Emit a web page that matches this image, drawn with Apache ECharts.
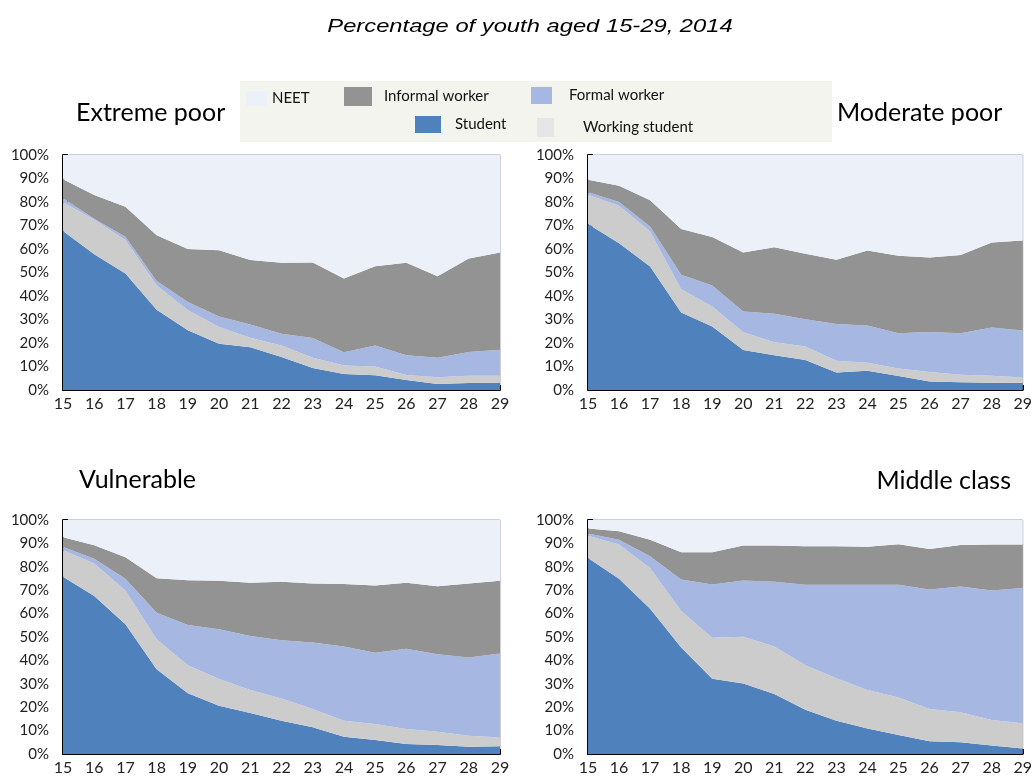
<!DOCTYPE html>
<html>
<head>
<meta charset="utf-8">
<script src="https://cdn.jsdelivr.net/npm/echarts@6/dist/echarts.min.js"></script>
<style>
  html, body { margin: 0; padding: 0; background: #fff; }
  #chart { width: 1035px; height: 776px; }
</style>
</head>
<body>
<div id="chart"></div>
<script>
// ages on the x axis
const ages = ['15', '16', '17', '18', '19', '20', '21', '22', '23', '24', '25', '26', '27', '28', '29'];
const panelNames = ['Extreme poor', 'Moderate poor', 'Vulnerable', 'Middle class'];
const seriesNames = ['Student', 'Working student', 'Formal worker', 'Informal worker', 'NEET'];

// shares in %, one array per status, stacked from the bottom
const extremeStudent  = [67.7, 57.8, 49.6, 34.2, 25.4, 19.7, 18.2, 14.0, 9.4, 6.8, 6.3, 4.3, 2.6, 3.0, 3.1];
const extremeWorkStud = [12.2, 14.6, 14.2, 10.4, 8.5, 7.1, 4.0, 4.9, 4.3, 3.6, 3.7, 2.1, 2.8, 3.1, 3.0];
const extremeFormal   = [1.7, 0.5, 1.4, 1.8, 3.6, 4.5, 5.7, 5.0, 8.4, 5.7, 8.9, 8.4, 8.3, 10.1, 11.0];
const extremeInformal = [8.1, 10.1, 12.8, 19.4, 22.5, 28.2, 27.4, 30.2, 32.2, 31.3, 33.8, 39.3, 34.7, 39.8, 41.4];
const extremeNeet     = [10.3, 17.0, 22.0, 34.2, 40.0, 40.5, 44.7, 45.9, 45.7, 52.6, 47.3, 45.9, 51.6, 44.0, 41.5];

const moderateStudent  = [70.6, 62.5, 52.6, 33.0, 27.0, 17.0, 14.8, 12.8, 7.4, 8.2, 6.0, 3.6, 3.3, 3.1, 3.1];
const moderateWorkStud = [12.5, 15.9, 14.9, 9.9, 8.5, 7.6, 5.5, 5.7, 5.0, 3.4, 3.2, 4.1, 3.2, 3.0, 2.2];
const moderateFormal   = [1.1, 1.6, 2.1, 6.1, 9.0, 8.8, 12.1, 11.6, 15.7, 15.8, 14.9, 17.0, 17.6, 20.5, 20.0];
const moderateInformal = [5.3, 6.9, 11.1, 19.5, 20.6, 25.1, 28.3, 27.9, 27.3, 32.0, 33.0, 31.7, 33.4, 36.2, 38.3];
const moderateNeet     = [10.5, 13.1, 19.3, 31.5, 34.9, 41.5, 39.3, 42.0, 44.6, 40.6, 42.9, 43.6, 42.5, 37.2, 36.4];

const vulnStudent  = [75.7, 67.5, 55.4, 36.2, 26.0, 20.6, 17.5, 14.2, 11.4, 7.4, 6.0, 4.3, 3.8, 3.1, 3.3];
const vulnWorkStud = [11.4, 13.9, 14.5, 12.8, 11.9, 11.4, 9.8, 9.5, 7.8, 6.8, 6.8, 6.4, 5.7, 4.7, 3.8];
const vulnFormal   = [1.4, 2.0, 5.0, 11.4, 17.2, 21.3, 23.1, 24.9, 28.4, 31.7, 30.5, 34.3, 33.1, 33.4, 35.9];
const vulnInformal = [4.1, 5.8, 9.2, 14.7, 19.2, 20.7, 22.8, 25.0, 25.3, 26.8, 28.7, 28.2, 29.1, 31.7, 31.0];
const vulnNeet     = [7.4, 10.8, 15.9, 24.9, 25.7, 26.0, 26.8, 26.4, 27.1, 27.3, 28.0, 26.8, 28.3, 27.1, 26.0];

const middleStudent  = [83.8, 74.9, 62.1, 45.5, 32.2, 30.1, 25.6, 18.9, 14.2, 10.9, 8.1, 5.4, 5.0, 3.6, 2.4];
const middleWorkStud = [9.5, 14.6, 17.4, 15.6, 17.5, 20.0, 20.3, 19.0, 18.2, 16.4, 16.0, 13.8, 12.8, 10.9, 10.7];
const middleFormal   = [0.9, 2.1, 5.0, 13.5, 22.7, 24.0, 27.7, 34.4, 39.9, 45.0, 48.2, 51.1, 53.8, 55.4, 57.8];
const middleInformal = [2.2, 3.6, 7.1, 11.6, 13.8, 15.0, 15.5, 16.5, 16.5, 16.3, 17.3, 17.3, 17.7, 19.6, 18.6];
const middleNeet     = [3.6, 4.8, 8.4, 13.8, 13.8, 10.9, 10.9, 11.2, 11.2, 11.4, 10.4, 12.4, 10.7, 10.5, 10.5];

const panels = [
    [extremeStudent, extremeWorkStud, extremeFormal, extremeInformal, extremeNeet],
    [moderateStudent, moderateWorkStud, moderateFormal, moderateInformal, moderateNeet],
    [vulnStudent, vulnWorkStud, vulnFormal, vulnInformal, vulnNeet],
    [middleStudent, middleWorkStud, middleFormal, middleInformal, middleNeet]
];

const colors = {
    'Student': '#4f81bd',
    'Working student': '#cccccc',
    'Formal worker': '#a6b8e2',
    'Informal worker': '#939393',
    'NEET': '#ecf0f8'
};

const font = 'Lato';
const grids = [
    {left: 63, top: 155, width: 437, height: 235},
    {left: 588, top: 155, width: 437, height: 235},
    {left: 63, top: 520, width: 437, height: 235},
    {left: 588, top: 520, width: 437, height: 235}
];

let xAxes = [], yAxes = [], series = [];
grids.forEach(function(g, i) {
    g.show = true;
    g.borderColor = '#a0a0a0';
    g.borderWidth = 1;
    xAxes.push({
        type: 'category', gridIndex: i, data: ages, boundaryGap: false,
        axisLine: {lineStyle: {color: '#000', width: 2}},
        axisTick: {inside: true, length: 5, lineStyle: {color: '#000', width: 2}},
        axisLabel: {color: '#222', fontFamily: font, fontSize: 16, margin: 6, interval: 0}
    });
    yAxes.push({
        type: 'value', gridIndex: i, min: 0, max: 100, interval: 10,
        axisLine: {show: true, lineStyle: {color: '#000', width: 2}},
        axisTick: {show: true, inside: true, length: 5, lineStyle: {color: '#000', width: 2}},
        splitLine: {show: false},
        axisLabel: {color: '#222', fontFamily: font, fontSize: 15, margin: 14, formatter: '{value}%'}
    });
    // stack the five statuses
    seriesNames.forEach(function(name, k) {
        series.push({
            name: name, type: 'line', stack: 'p' + i,
            xAxisIndex: i, yAxisIndex: i,
            data: panels[i][k],
            symbol: 'none', silent: true,
            lineStyle: {width: 0},
            itemStyle: {color: colors[name]},
            areaStyle: {color: colors[name], opacity: 1}
        });
    });
});

// the legend is split into loose items, placed one by one
function legendItem(name, left, top, w, h, gap, swatch) {
    return {
        data: [{name: name, itemStyle: {color: swatch || colors[name]}}],
        left: left, top: top, itemWidth: w, itemHeight: h,
        icon: 'rect', padding: 0,
        textStyle: {fontFamily: font, fontSize: 15, color: '#111', padding: [0, 0, 0, gap]}
    };
}

const panelTitle = {fontFamily: font, fontWeight: 'normal', fontSize: 25, color: '#000'};

const option = {
    animation: false,
    backgroundColor: '#fff',
    title: [
        {text: panelNames[0], left: 76, top: 100, padding: 0, textStyle: panelTitle},
        {text: panelNames[1], left: 837, top: 100, padding: 0, textStyle: panelTitle},
        {text: panelNames[2], left: 79, top: 467, padding: 0, textStyle: panelTitle},
        {text: panelNames[3], right: 24, top: 468, padding: 0, textStyle: panelTitle}
    ],
    graphic: [{
        type: 'rect', left: 240, top: 81, z: -1,
        shape: {width: 592, height: 61},
        style: {fill: '#f4f4ee'}
    }, {
        // main heading, drawn a little wide like the source
        type: 'text', x: 530, y: 27, scaleX: 1.25,
        style: {
            text: 'Percentage of youth aged 15-29, 2014',
            fontFamily: 'Liberation Sans', fontStyle: 'italic', fontSize: 19,
            fill: '#000', align: 'center', verticalAlign: 'middle'
        }
    }],
    legend: [
        legendItem('NEET', 246, 91, 21, 15, 0),
        legendItem('Informal worker', 344, 87, 28, 19, 7),
        legendItem('Formal worker', 531, 87, 21, 17, 12),
        legendItem('Student', 415, 116, 26, 17, 9),
        legendItem('Working student', 537, 118, 17, 19, 24, '#e6e6e6')
    ],
    grid: grids,
    xAxis: xAxes,
    yAxis: yAxes,
    series: series
};

const chart = echarts.init(document.getElementById('chart'));
chart.setOption(option);
</script>
</body>
</html>
